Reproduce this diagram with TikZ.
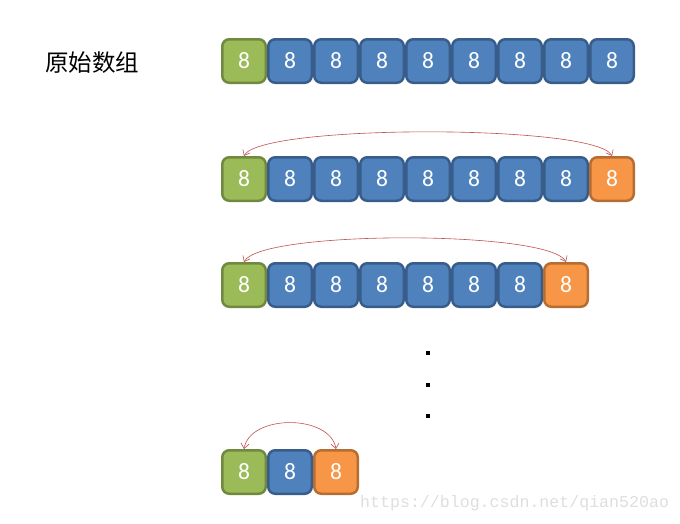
\documentclass[tikz,border=0pt]{standalone}
\usepackage{fontspec}
\setmainfont{Carlito}
\newfontfamily\cjk{Noto Sans CJK SC}
\newfontfamily\wm{Liberation Mono}
\usetikzlibrary{arrows.meta}
\definecolor{gfill}{HTML}{9BBB59}
\definecolor{gdraw}{HTML}{71893F}
\definecolor{bfill}{HTML}{4F81BD}
\definecolor{bdraw}{HTML}{385D8A}
\definecolor{ofill}{HTML}{F79646}
\definecolor{odraw}{HTML}{B66D31}
\definecolor{arr}{HTML}{C0504D}
\tikzset{
  cell/.style={rectangle, rounded corners=7pt, line width=2.5pt, minimum width=43.5pt, minimum height=43.5pt, inner sep=0pt, text=white, font=\fontsize{23.5}{23.5}\selectfont},
  gcell/.style={cell, fill=gfill, draw=gdraw},
  bcell/.style={cell, fill=bfill, draw=bdraw},
  ocell/.style={cell, fill=ofill, draw=odraw},
  swap/.style={draw=arr, line width=0.6pt, {Straight Barb[length=5pt,width=8pt]}-{Straight Barb[length=5pt,width=8pt]}},
  dotmark/.style={rectangle, fill=black, inner sep=0pt, minimum size=3.5pt},
}
\begin{document}
\begin{tikzpicture}[x=1pt,y=-1pt]
\useasboundingbox (0,0) rectangle (680,523);
\node[anchor=west, inner sep=0pt, font=\cjk\fontsize{23.5}{23.5}\selectfont] (label) at (45,63) {原始数组};
% row 1
\node[gcell] (r1b1) at (244,61) {8};
\foreach \i in {2,...,9}{\node[bcell] (r1b\i) at ({244+46*(\i-1)},61) {8};}
% row 2
\node[gcell] (r2b1) at (244,179) {8};
\foreach \i in {2,...,8}{\node[bcell] (r2b\i) at ({244+46*(\i-1)},179) {8};}
\node[ocell] (r2b9) at (612,179) {8};
% row 3
\node[gcell] (r3b1) at (244,285) {8};
\foreach \i in {2,...,7}{\node[bcell] (r3b\i) at ({244+46*(\i-1)},285) {8};}
\node[ocell] (r3b8) at (566,285) {8};
% row 4
\node[gcell] (r4b1) at (244,472) {8};
\node[bcell] (r4b2) at (290,472) {8};
\node[ocell] (r4b3) at (336,472) {8};
% dots
\node[dotmark] (d1) at (428,353) {};
\node[dotmark] (d2) at (428,385) {};
\node[dotmark] (d3) at (428,416) {};
% swap arrows
\draw[swap] (r2b1.north) .. controls (260,124) and (596,124) .. (r2b9.north);
\draw[swap] (r3b1.north) .. controls (260,230) and (550,230) .. (r3b8.north);
\draw[swap] (r4b1.north) .. controls (250,414) and (330,414) .. (r4b3.north);
% watermark
\node[anchor=west, inner sep=0pt, text=black!13, font=\wm\fontsize{16.6}{16.6}\selectfont] (wm) at (360,503) {https://blog.csdn.net/qian520ao};
\end{tikzpicture}
\end{document}
